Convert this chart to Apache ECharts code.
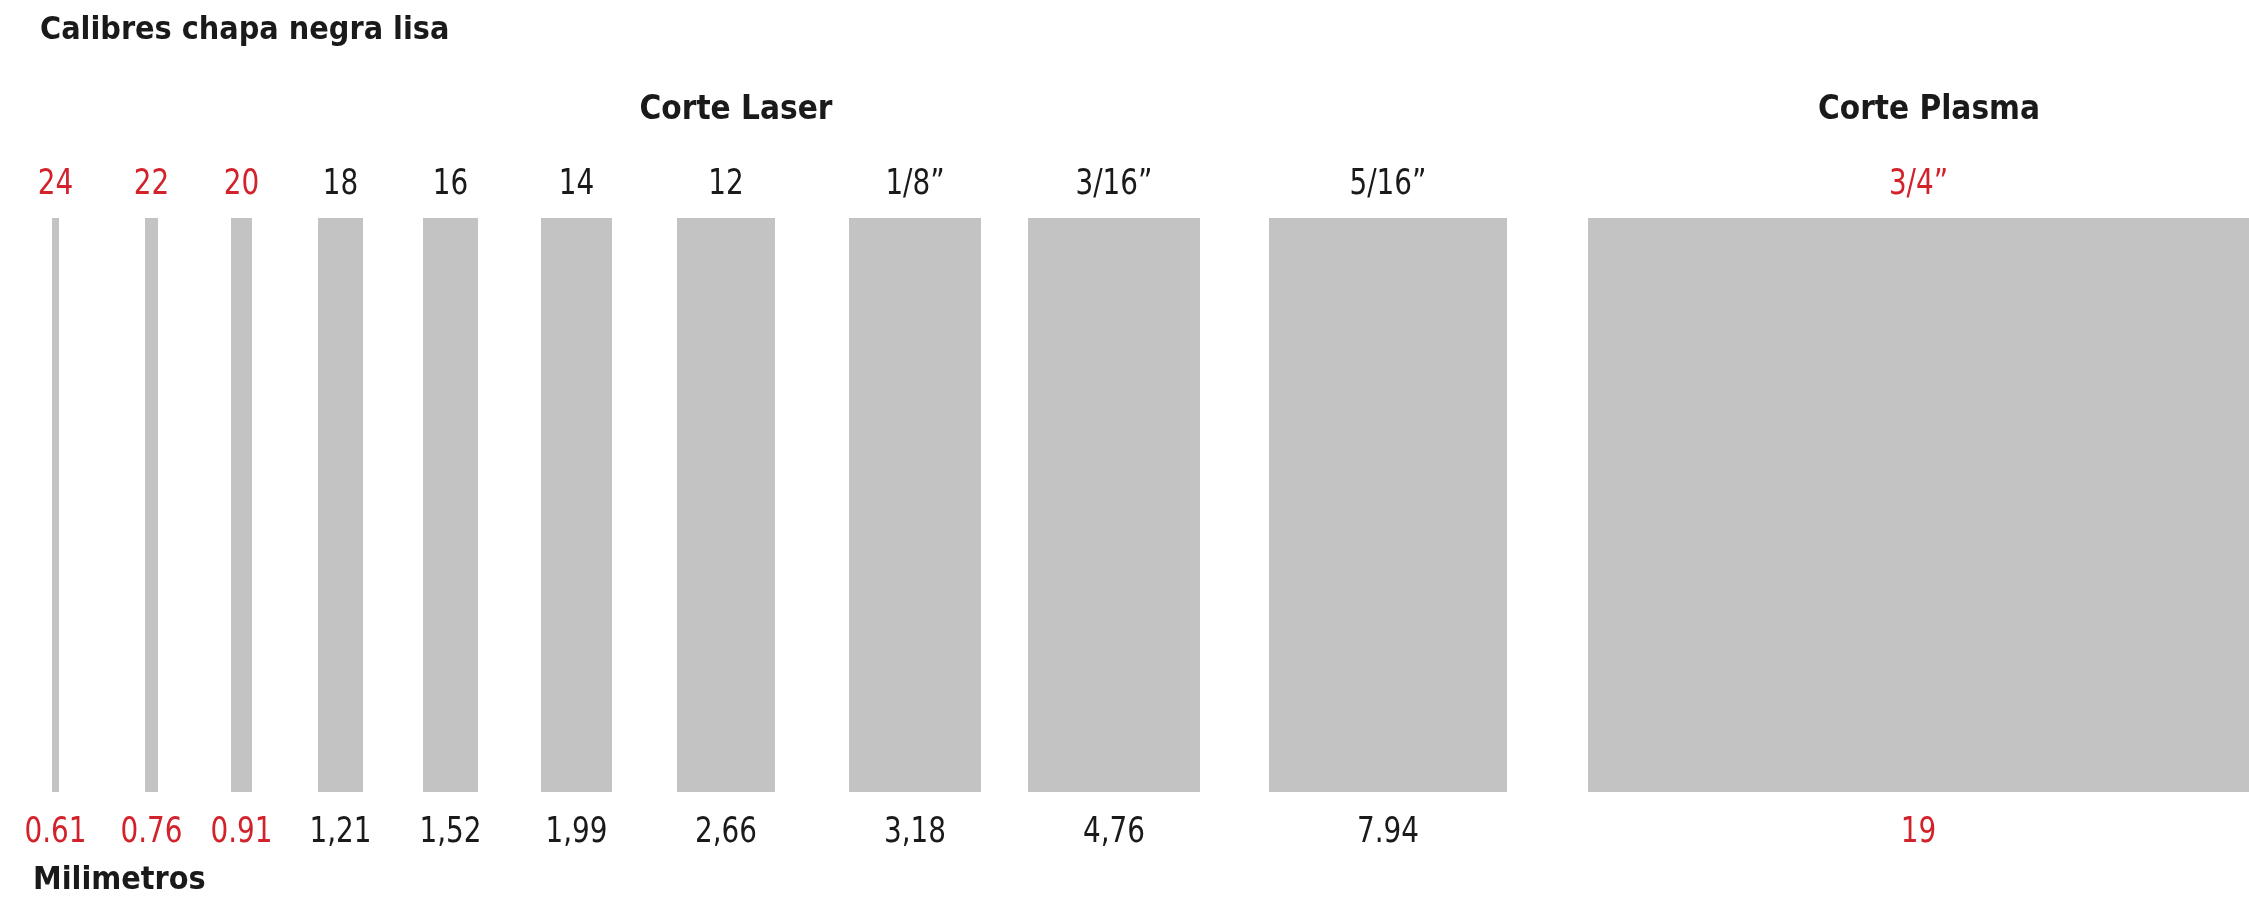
<!DOCTYPE html>
<html>
<head>
<meta charset="utf-8">
<script src="https://cdn.jsdelivr.net/npm/echarts@6/dist/echarts.min.js"></script>
<style>
  html, body { margin: 0; padding: 0; background: #fff; }
  #chart { width: 2249px; height: 915px; }
</style>
</head>
<body>
<div id="chart"></div>
<script>
// calibres (gauge) y espesor en milimetros
const calibres = ['24', '22', '20', '18', '16', '14', '12', '1/8”', '3/16”', '5/16”', '3/4”'];
const milimetros = ['0.61', '0.76', '0.91', '1,21', '1,52', '1,99', '2,66', '3,18', '4,76', '7.94', '19'];
// inicio / fin de cada barra sobre el eje horizontal
const inicio = [52, 145, 231, 318, 423, 541, 677, 849, 1028, 1269, 1588];
const fin = [59, 158, 252, 363, 478, 612, 775, 981, 1200, 1507, 2249];
// true = texto en rojo
const destacado = [true, true, true, false, false, false, false, false, false, false, true];

const FUENTE = "'DejaVu Sans Condensed', 'DejaVu Sans', sans-serif";
const ROJO = '#d2232c';
const NEGRO = '#1a1a1a';
const GRIS = '#c3c3c3';

let myChart = echarts.init(document.getElementById('chart'));

let seriesData = calibres.map((c, i) => ({
    value: [inicio[i], fin[i]],
    calibre: c,
    mm: milimetros[i],
    rojo: destacado[i]
}));

// texto estrecho tipo DIN: se comprime en horizontal
function etiqueta(texto, x, y, color) {
    return {
        type: 'text',
        x: x, y: y,
        scaleX: 0.86,
        style: { text: texto, fill: color, font: '36px ' + FUENTE, align: 'center', verticalAlign: 'middle' }
    };
}

function renderItem(params, api) {
    let item = seriesData[params.dataIndex];
    let p0 = api.coord([api.value(0), 1]);
    let p1 = api.coord([api.value(1), 0]);
    let cx = (p0[0] + p1[0]) / 2;
    let color = item.rojo ? ROJO : NEGRO;
    return {
        type: 'group',
        children: [
            {
                type: 'rect',
                shape: { x: p0[0], y: p0[1], width: p1[0] - p0[0], height: p1[1] - p0[1] },
                style: { fill: GRIS }
            },
            etiqueta(item.calibre, cx, p0[1] - 33, color),
            etiqueta(item.mm, cx, p1[1] + 41, color)
        ]
    };
}

let option = {
    backgroundColor: '#fff',
    animation: false,
    grid: { left: 0, right: 0, top: 218, bottom: 123 },
    xAxis: { type: 'value', min: 0, max: 2249, show: false },
    yAxis: { type: 'value', min: 0, max: 1, show: false },
    graphic: [
        { type: 'text', left: 40, top: 15, style: { text: 'Calibres chapa negra lisa', fill: NEGRO, font: 'bold 32px ' + FUENTE } },
        { type: 'text', x: 736, y: 110, style: { text: 'Corte Laser', fill: NEGRO, font: 'bold 33px ' + FUENTE, align: 'center', verticalAlign: 'middle' } },
        { type: 'text', x: 1929, y: 110, style: { text: 'Corte Plasma', fill: NEGRO, font: 'bold 33px ' + FUENTE, align: 'center', verticalAlign: 'middle' } },
        { type: 'text', left: 33, top: 865, style: { text: 'Milimetros', fill: NEGRO, font: 'bold 32px ' + FUENTE } }
    ],
    series: [{
        type: 'custom',
        renderItem: renderItem,
        data: seriesData.map(d => d.value),
        encode: { x: [0, 1] }
    }]
};
myChart.setOption(option);
</script>
</body>
</html>
